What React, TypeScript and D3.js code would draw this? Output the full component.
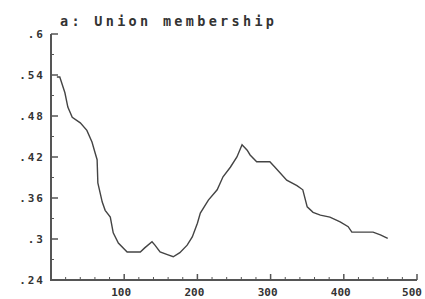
import React, { useRef, useEffect } from 'react';
import * as d3 from 'd3';

const xValues = [
  8, 12, 19, 23, 29, 40, 49, 56, 60, 63, 64, 70, 74, 81, 85, 92, 104, 122, 128,
  138, 142, 149, 159, 167, 176, 186, 193, 200, 204, 215, 227, 235, 245, 254, 261,
  268, 272, 281, 295, 299, 306, 322, 336, 344, 350, 358, 368, 381, 395, 406, 411,
  426, 440, 450, 460,
];
const yValues = [
  0.537, 0.537, 0.514, 0.493, 0.478, 0.47, 0.459, 0.442, 0.427, 0.416, 0.382,
  0.354, 0.342, 0.332, 0.309, 0.294, 0.281, 0.281, 0.287, 0.296, 0.291, 0.281,
  0.277, 0.274, 0.28, 0.291, 0.303, 0.323, 0.338, 0.357, 0.372, 0.391, 0.405,
  0.42, 0.438, 0.43, 0.423, 0.413, 0.413, 0.413, 0.405, 0.386, 0.378, 0.372,
  0.347, 0.339, 0.335, 0.332, 0.325, 0.318, 0.31, 0.31, 0.31, 0.306, 0.301,
];
const yTicks = [0.24, 0.3, 0.36, 0.42, 0.48, 0.54, 0.6];
const yTickLabels = ['.24', '.3', '.36', '.42', '.48', '.54', '.6'];
const xTicks = [100, 200, 300, 400, 500];
const title = 'a: Union membership';

const App = () => {
  const ref = useRef<SVGSVGElement>(null);

  useEffect(() => {
    const width = 425;
    const height = 299;
    const ink = '#333';
    const font = "'DejaVu Sans Mono', monospace";

    const x = d3.scaleLinear().domain([0, 500]).range([51, 417]);
    const y = d3.scaleLinear().domain([0.24, 0.6]).range([280, 34]);

    const svg = d3.select(ref.current);
    svg.selectAll('*').remove();
    svg.attr('width', width).attr('height', height);

    // title
    svg.append('text')
      .attr('x', 60)
      .attr('y', 26)
      .attr('font-family', font)
      .attr('font-weight', 'bold')
      .attr('font-size', 13.5)
      .attr('fill', ink)
      .attr('textLength', 214)
      .attr('lengthAdjust', 'spacing')
      .text(title);

    const axes = svg.append('g').attr('stroke', '#555').attr('fill', 'none');

    // axis lines
    axes.append('path')
      .attr('stroke-width', 2)
      .attr('d', `M${x(0)},${y(0.6)}V${y(0.24)}H${x(500)}`);

    // y ticks (major + minor halfway), pointing inward
    const yMinor = d3.range(0.27, 0.6, 0.06);
    axes.selectAll('line.ymaj')
      .data(yTicks)
      .join('line')
        .attr('class', 'ymaj')
        .attr('x1', x(0)).attr('x2', x(0) + 7)
        .attr('y1', d => y(d)).attr('y2', d => y(d))
        .attr('stroke-width', 1.5);
    axes.selectAll('line.ymin')
      .data(yMinor)
      .join('line')
        .attr('class', 'ymin')
        .attr('x1', x(0)).attr('x2', x(0) + 3)
        .attr('y1', d => y(d)).attr('y2', d => y(d))
        .attr('stroke-width', 1);

    // x ticks, minor every 20
    const xMinor = d3.range(20, 500, 20).filter(d => d % 100 !== 0);
    axes.selectAll('line.xmaj')
      .data(xTicks)
      .join('line')
        .attr('class', 'xmaj')
        .attr('x1', d => x(d)).attr('x2', d => x(d))
        .attr('y1', y(0.24)).attr('y2', y(0.24) - 6)
        .attr('stroke-width', 1.5);
    axes.selectAll('line.xmin')
      .data(xMinor)
      .join('line')
        .attr('class', 'xmin')
        .attr('x1', d => x(d)).attr('x2', d => x(d))
        .attr('y1', y(0.24)).attr('y2', y(0.24) - 3)
        .attr('stroke-width', 1);

    // tick labels
    svg.append('g')
      .selectAll('text')
      .data(yTicks)
      .join('text')
        .attr('x', 45)
        .attr('y', d => y(d) + 4)
        .attr('text-anchor', 'end')
        .attr('font-family', font)
        .attr('font-weight', 'bold')
        .attr('font-size', 11)
        .attr('letter-spacing', 2)
        .attr('fill', ink)
        .text((d, i) => yTickLabels[i]);

    svg.append('g')
      .selectAll('text')
      .data(xTicks)
      .join('text')
        .attr('x', d => Math.min(x(d) - 3, 412))
        .attr('y', 296)
        .attr('text-anchor', 'middle')
        .attr('font-family', font)
        .attr('font-weight', 'bold')
        .attr('font-size', 11)
        .attr('fill', ink)
        .text(d => String(d));

    // the series
    const pts = xValues.map((d, i) => [d, yValues[i]] as [number, number]);
    svg.append('path')
      .datum(pts)
      .attr('fill', 'none')
      .attr('stroke', '#444')
      .attr('stroke-width', 1.4)
      .attr('d', d3.line<[number, number]>().x(d => x(d[0])).y(d => y(d[1])));
  }, []);

  return (
    <svg
      ref={ref}
      style={{ position: 'absolute', left: 0, top: 0, display: 'block', background: '#fff' }}
    />
  );
};

export default App;
